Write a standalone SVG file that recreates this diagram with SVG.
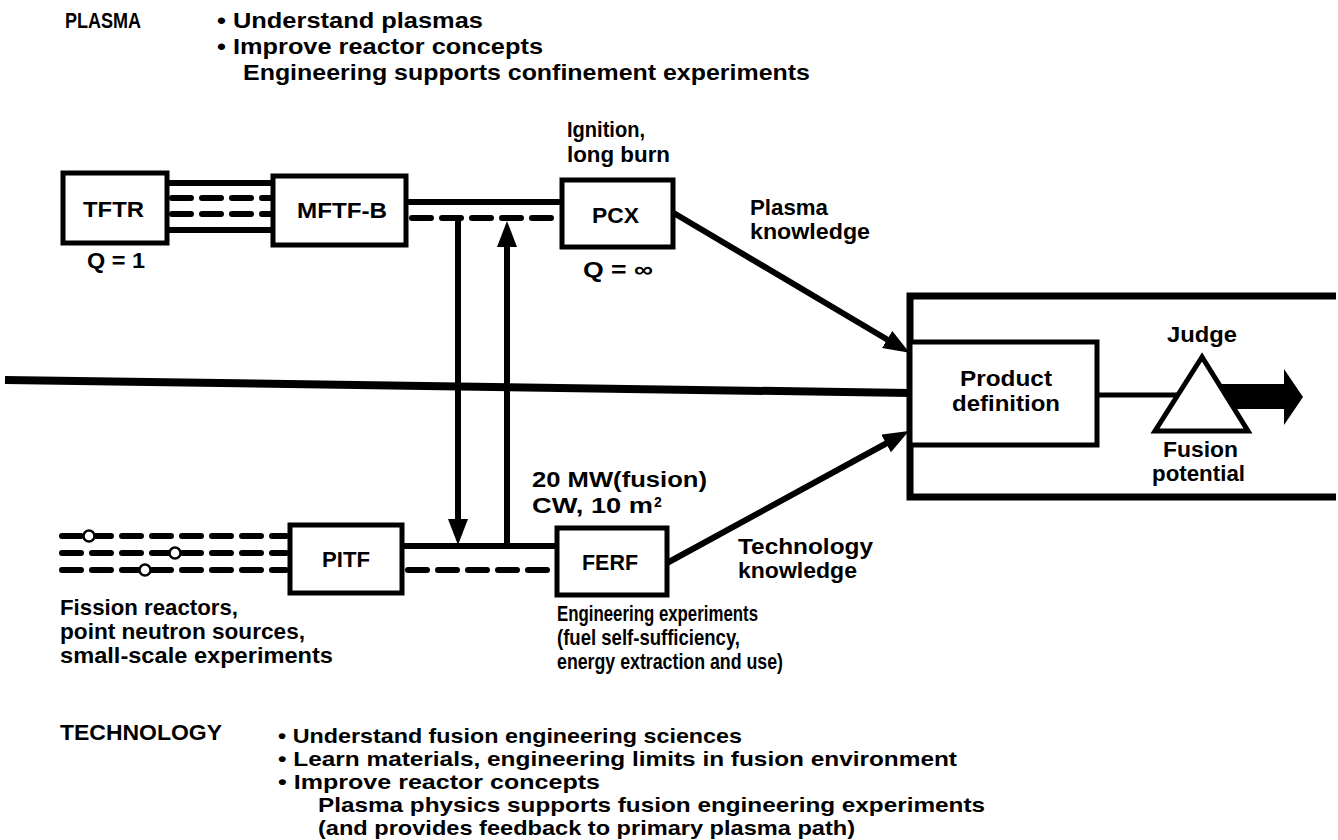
<svg xmlns="http://www.w3.org/2000/svg" width="1338" height="840" viewBox="0 0 1338 840">
<style>
.t{font-family:"Liberation Sans",Arial,Helvetica,sans-serif;font-size:22px;font-weight:bold;fill:#000}
.s{font-size:21px}
.box{fill:#fff;stroke:#000;stroke-width:5}
.ln{stroke:#000;stroke-width:6;fill:none}
.thick{stroke:#000;stroke-width:7;fill:none}
.dash{stroke:#000;stroke-width:6;stroke-dasharray:19 11;stroke-linecap:round;fill:none}
.src{fill:#fff;stroke:#000;stroke-width:2.5}
</style>
<defs>
<marker id="ah" viewBox="0 -10 26 20" refX="1" refY="0" markerWidth="26" markerHeight="20" markerUnits="userSpaceOnUse" orient="auto">
<path d="M0,-10 L26,0 L0,10 z" fill="#000"/>
</marker>
</defs>

<g id="headings">
<text class="t" x="65" y="28" textLength="76" lengthAdjust="spacingAndGlyphs">PLASMA</text>
<text class="t" x="217" y="28" textLength="266" lengthAdjust="spacingAndGlyphs">• Understand plasmas</text>
<text class="t" x="217" y="54" textLength="326" lengthAdjust="spacingAndGlyphs">• Improve reactor concepts</text>
<text class="t" x="243" y="80" textLength="567" lengthAdjust="spacingAndGlyphs">Engineering supports confinement experiments</text>
<text class="t" x="60" y="740" textLength="162" lengthAdjust="spacingAndGlyphs">TECHNOLOGY</text>
<text class="t s" x="278" y="743" textLength="464" lengthAdjust="spacingAndGlyphs">• Understand fusion engineering sciences</text>
<text class="t s" x="278" y="766" textLength="679" lengthAdjust="spacingAndGlyphs">• Learn materials, engineering limits in fusion environment</text>
<text class="t s" x="278" y="789" textLength="322" lengthAdjust="spacingAndGlyphs">• Improve reactor concepts</text>
<text class="t s" x="318" y="812" textLength="667" lengthAdjust="spacingAndGlyphs">Plasma physics supports fusion engineering experiments</text>
<text class="t s" x="318" y="835" textLength="537" lengthAdjust="spacingAndGlyphs">(and provides feedback to primary plasma path)</text>
</g>

<g id="connectors">
<line x1="5" y1="380" x2="910" y2="393" style="stroke:#000;stroke-width:8"/>
<line class="ln" x1="166" y1="183" x2="275" y2="183"/>
<line class="dash" x1="172" y1="198" x2="270" y2="198"/>
<line class="dash" x1="172" y1="214" x2="270" y2="214"/>
<line class="ln" x1="166" y1="230" x2="275" y2="230"/>
<line class="ln" x1="405" y1="202" x2="564" y2="202"/>
<line class="dash" x1="412" y1="218" x2="558" y2="218"/>
<line class="ln" x1="458" y1="218" x2="458" y2="520" marker-end="url(#ah)"/>
<line class="ln" x1="507" y1="547" x2="507" y2="246" marker-end="url(#ah)"/>
<line class="dash" x1="62" y1="536" x2="286" y2="536"/>
<line class="dash" x1="62" y1="553" x2="286" y2="553"/>
<line class="dash" x1="62" y1="570" x2="286" y2="570"/>
<circle class="src" cx="89" cy="536" r="5.5"/>
<circle class="src" cx="175" cy="553" r="5.5"/>
<circle class="src" cx="145" cy="570" r="5.5"/>
<line class="ln" x1="400" y1="546" x2="559" y2="546"/>
<line class="dash" x1="408" y1="570" x2="553" y2="570"/>
<line class="ln" x1="672" y1="212" x2="888" y2="340" marker-end="url(#ah)"/>
<line class="ln" x1="667" y1="563" x2="887" y2="443" marker-end="url(#ah)"/>
<line x1="1097" y1="395" x2="1180" y2="395" style="stroke:#000;stroke-width:5"/>
<path d="M1212,384 L1284,384 L1284,369 L1303,397 L1284,425 L1284,409 L1212,409 z" fill="#000"/>
</g>

<g id="bracket">
<path class="thick" d="M1336,296 L910,296 L910,497 L1336,497"/>
</g>

<g id="tftr">
<rect class="box" x="63" y="173" width="104" height="70"/>
<text class="t" x="83" y="217" textLength="61" lengthAdjust="spacingAndGlyphs">TFTR</text>
<text class="t" x="87" y="268" textLength="58" lengthAdjust="spacingAndGlyphs">Q = 1</text>
</g>

<g id="mftfb">
<rect class="box" x="273" y="176" width="133" height="69"/>
<text class="t" x="297" y="218" textLength="90" lengthAdjust="spacingAndGlyphs">MFTF-B</text>
</g>

<g id="pcx">
<rect class="box" x="562" y="180" width="111" height="67"/>
<text class="t" x="592" y="223" textLength="47" lengthAdjust="spacingAndGlyphs">PCX</text>
<text class="t" x="567" y="137" textLength="78" lengthAdjust="spacingAndGlyphs">Ignition,</text>
<text class="t" x="567" y="162" textLength="103" lengthAdjust="spacingAndGlyphs">long burn</text>
<text class="t" x="583" y="277" textLength="70" lengthAdjust="spacingAndGlyphs">Q = ∞</text>
</g>

<g id="plasma-knowledge">
<text class="t" x="750" y="215" textLength="78" lengthAdjust="spacingAndGlyphs">Plasma</text>
<text class="t" x="750" y="239" textLength="120" lengthAdjust="spacingAndGlyphs">knowledge</text>
</g>

<g id="pitf">
<rect class="box" x="290" y="525" width="112" height="68"/>
<text class="t" x="322" y="567" textLength="48" lengthAdjust="spacingAndGlyphs">PITF</text>
<text class="t" x="60" y="615" textLength="178" lengthAdjust="spacingAndGlyphs">Fission reactors,</text>
<text class="t" x="60" y="639" textLength="245" lengthAdjust="spacingAndGlyphs">point neutron sources,</text>
<text class="t" x="60" y="663" textLength="273" lengthAdjust="spacingAndGlyphs">small-scale experiments</text>
</g>

<g id="ferf">
<rect class="box" x="557" y="528" width="110" height="67"/>
<text class="t" x="582" y="570" textLength="56" lengthAdjust="spacingAndGlyphs">FERF</text>
<text class="t" x="532" y="487" textLength="175" lengthAdjust="spacingAndGlyphs">20 MW(fusion)</text>
<text class="t" x="532" y="513"><tspan textLength="121" lengthAdjust="spacingAndGlyphs">CW, 10 m</tspan><tspan x="654" y="507" style="font-size:14px">2</tspan></text>
<text class="t" x="557" y="621" textLength="201" lengthAdjust="spacingAndGlyphs">Engineering experiments</text>
<text class="t" x="557" y="645" textLength="183" lengthAdjust="spacingAndGlyphs">(fuel self-sufficiency,</text>
<text class="t" x="557" y="669" textLength="226" lengthAdjust="spacingAndGlyphs">energy extraction and use)</text>
</g>

<g id="technology-knowledge">
<text class="t" x="738" y="554" textLength="135" lengthAdjust="spacingAndGlyphs">Technology</text>
<text class="t" x="738" y="578" textLength="119" lengthAdjust="spacingAndGlyphs">knowledge</text>
</g>

<g id="product-definition">
<rect class="box" x="910" y="342" width="187" height="103"/>
<text class="t" x="960" y="386" textLength="92" lengthAdjust="spacingAndGlyphs">Product</text>
<text class="t" x="952" y="411" textLength="108" lengthAdjust="spacingAndGlyphs">definition</text>
</g>

<g id="judge">
<polygon points="1202,357 1155,431 1248,431" style="fill:#fff;stroke:#000;stroke-width:5;stroke-linejoin:miter"/>
<text class="t" x="1167" y="342" textLength="70" lengthAdjust="spacingAndGlyphs">Judge</text>
<text class="t" x="1163" y="457" textLength="75" lengthAdjust="spacingAndGlyphs">Fusion</text>
<text class="t" x="1152" y="481" textLength="93" lengthAdjust="spacingAndGlyphs">potential</text>
</g>
</svg>
